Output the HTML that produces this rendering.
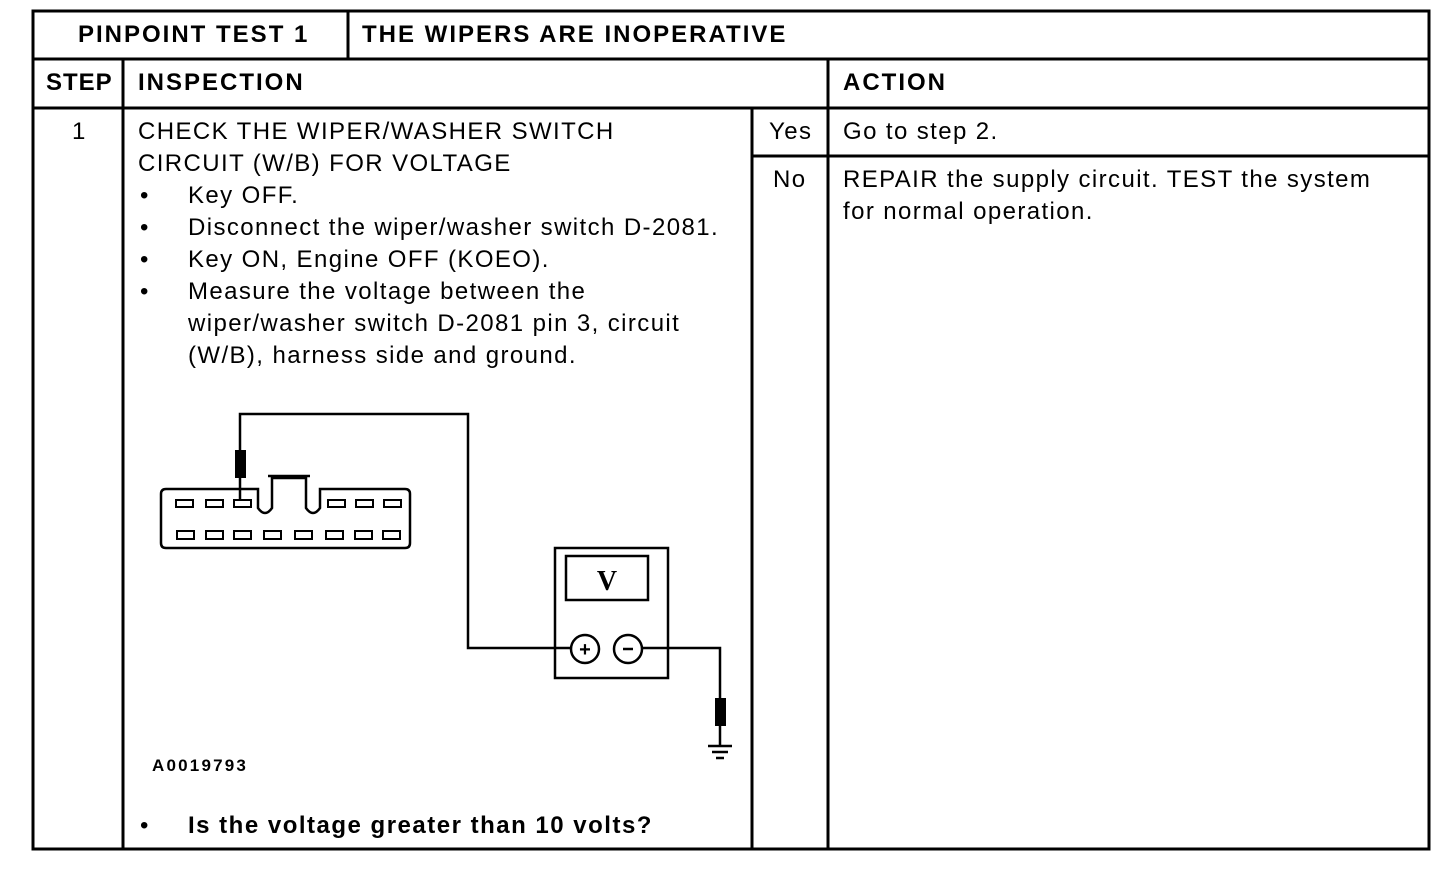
<!DOCTYPE html>
<html><head><style>
body{margin:0;background:#fff;width:1456px;height:888px;position:relative;overflow:hidden;font-family:"Liberation Sans",Arial,sans-serif;color:#000}
.t{position:absolute;font-size:24px;white-space:nowrap;line-height:32px;letter-spacing:1.4px}
.b{font-weight:bold;letter-spacing:2px}
</style></head><body>
<svg width="1456" height="888" style="position:absolute;left:0;top:0">
<g stroke="#000" stroke-width="3" fill="none">
<rect x="33" y="11" width="1396" height="838"/>
<line x1="33" y1="59" x2="1429" y2="59"/>
<line x1="33" y1="108" x2="1429" y2="108"/>
<line x1="348" y1="11" x2="348" y2="59"/>
<line x1="123" y1="59" x2="123" y2="849"/>
<line x1="828" y1="59" x2="828" y2="849"/>
<line x1="752" y1="108" x2="752" y2="849"/>
<line x1="752" y1="156" x2="1429" y2="156"/>
</g>
<g stroke="#000" stroke-width="2.5" fill="none">
<path d="M240 478 V414 H468 V648 H571"/>
<path d="M642 648 H720 V700"/>
<path d="M166 489 H258 V508 Q265 518 272 508 V478 H306 V508 Q313 518 320 508 V489 H405 Q410 489 410 494 V543 Q410 548 405 548 H166 Q161 548 161 543 V494 Q161 489 166 489Z"/>
<path d="M268 476 H310"/>
<rect x="555" y="548" width="113" height="130"/>
<rect x="566" y="556" width="82" height="44"/>
<circle cx="585" cy="649" r="14"/>
<circle cx="628" cy="649" r="14"/>
<line x1="720" y1="725" x2="720" y2="745"/>
<line x1="708" y1="746" x2="732" y2="746"/>
<line x1="712" y1="752" x2="728" y2="752"/>
<line x1="716" y1="758" x2="724" y2="758"/>
<line x1="240" y1="478" x2="240" y2="500"/>
</g>
<rect x="235" y="450" width="11" height="28" fill="#000"/>
<rect x="715" y="698" width="11" height="28" fill="#000"/>
<g stroke="#000" stroke-width="2" fill="none">
<rect x="176" y="500" width="17" height="7"/><rect x="206" y="500" width="17" height="7"/><rect x="234" y="500" width="17" height="7"/>
<rect x="328" y="500" width="17" height="7"/><rect x="356" y="500" width="17" height="7"/><rect x="384" y="500" width="17" height="7"/>
<rect x="177" y="531" width="17" height="8"/><rect x="206" y="531" width="17" height="8"/><rect x="234" y="531" width="17" height="8"/><rect x="264" y="531" width="17" height="8"/><rect x="295" y="531" width="17" height="8"/><rect x="326" y="531" width="17" height="8"/><rect x="355" y="531" width="17" height="8"/><rect x="383" y="531" width="17" height="8"/>
</g>
<text x="607" y="590" font-family="Liberation Serif" font-size="28" font-weight="bold" text-anchor="middle">V</text>
<text x="585" y="656" font-size="20" font-weight="bold" text-anchor="middle" font-family="Liberation Sans">+</text>
<line x1="623" y1="649" x2="633" y2="649" stroke="#000" stroke-width="2.5"/>
</svg>
<div class="t b" style="left:78px;top:19px">PINPOINT TEST 1</div>
<div class="t b" style="left:362px;top:19px">THE WIPERS ARE INOPERATIVE</div>
<div class="t b" style="left:46px;top:67px;letter-spacing:1px">STEP</div>
<div class="t b" style="left:138px;top:67px">INSPECTION</div>
<div class="t b" style="left:843px;top:67px">ACTION</div>
<div class="t" style="left:72px;top:116px">1</div>
<div class="t" style="left:138px;top:116px">CHECK THE WIPER/WASHER SWITCH<br>CIRCUIT (W/B) FOR VOLTAGE</div>
<div class="t" style="left:140px;top:180px">•<br>•<br>•<br>•</div>
<div class="t" style="left:188px;top:180px">Key OFF.<br>Disconnect the wiper/washer switch D-2081.<br>Key ON, Engine OFF (KOEO).<br>Measure the voltage between the<br>wiper/washer switch D-2081 pin 3, circuit<br>(W/B), harness side and ground.</div>
<div class="t" style="left:769px;top:116px">Yes</div>
<div class="t" style="left:773px;top:164px">No</div>
<div class="t" style="left:843px;top:116px">Go to step 2.</div>
<div class="t" style="left:843px;top:164px">REPAIR the supply circuit. TEST the system<br>for normal operation.</div>
<div class="t b" style="left:152px;top:750px;font-size:17px;letter-spacing:2.2px">A0019793</div>
<div class="t" style="left:140px;top:810px">•</div>
<div class="t b" style="left:188px;top:810px;letter-spacing:1.5px">Is the voltage greater than 10 volts?</div>
</body></html>
